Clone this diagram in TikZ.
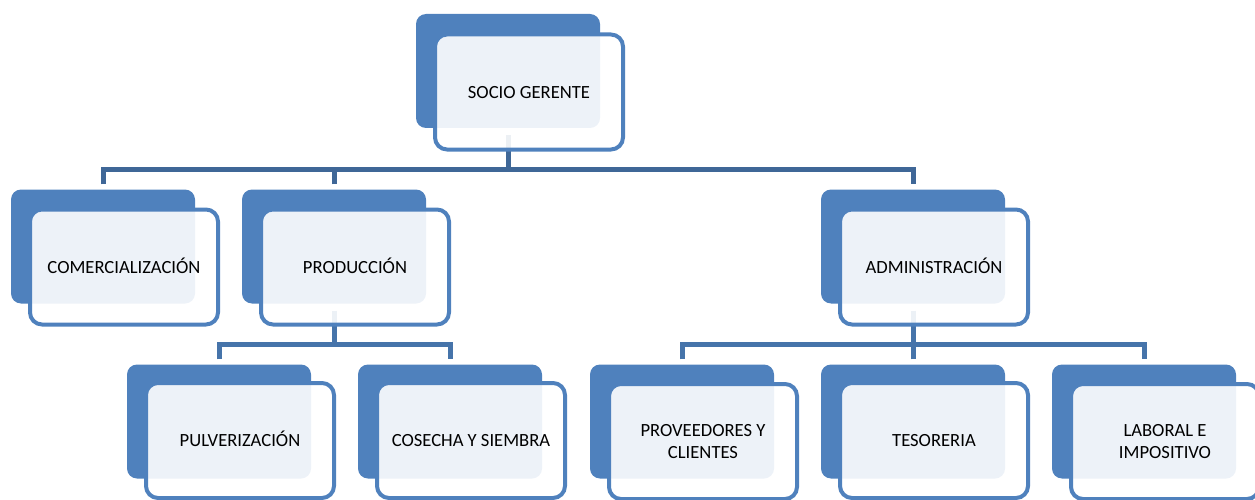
\documentclass[tikz,border=0pt]{standalone}
\usepackage{fontspec}
\setmainfont{Carlito}
\usetikzlibrary{backgrounds}
\definecolor{accent}{HTML}{4F81BD}
\definecolor{linktop}{HTML}{3F6797}
\definecolor{linklow}{HTML}{4674AA}
\begin{document}
\begin{tikzpicture}[x=1pt,y=-1pt,
  backbox/.style={rectangle, rounded corners=10pt, fill=accent, draw=none,
    minimum width=184pt, minimum height=114pt, inner sep=0pt},
  frontbox/.style={rectangle, rounded corners=12pt, fill=white, fill opacity=0.9,
    text opacity=1, draw=accent, line width=4pt, minimum width=188pt,
    minimum height=115pt, inner sep=0pt, align=center, text=black,
    font=\fontsize{18.6}{22}\selectfont},
  oneline/.style={text height=12.5pt, text depth=0pt},
  conn/.style={draw=linklow, line width=5pt},
  conntop/.style={draw=linktop, line width=5pt}]
\useasboundingbox (0,0) rectangle (1255,500);
\clip (0,0) rectangle (1255,500);

% top
\node[backbox] (b0) at (508,71) {};
\node[frontbox, oneline] (f0) at (529,92) {SOCIO GERENTE};
% second row
\node[backbox] (bcom) at (103,246.5) {};
\node[frontbox, oneline] (fcom) at (124,267) {COMERCIALIZACIÓN};
\node[backbox] (bprod) at (334,246.5) {};
\node[frontbox, oneline] (fprod) at (355,267) {PRODUCCIÓN};
\node[backbox] (badm) at (913,246.5) {};
\node[frontbox, oneline] (fadm) at (934,267) {ADMINISTRACIÓN};
% third row
\node[backbox] (bpul) at (219,421.5) {};
\node[frontbox, oneline] (fpul) at (240,440.5) {PULVERIZACIÓN};
\node[backbox] (bcos) at (450,421.5) {};
\node[frontbox, oneline] (fcos) at (471,440.5) {COSECHA Y SIEMBRA};
\node[backbox] (bpro) at (682,421.5) {};
\node[frontbox] (fpro) at (703,441.5) {PROVEEDORES Y\\CLIENTES};
\node[backbox] (btes) at (913,421.5) {};
\node[frontbox, oneline] (ftes) at (934,440.5) {TESORERIA};
\node[backbox] (blab) at (1144,421.5) {};
\node[frontbox] (flab) at (1165,441.5) {LABORAL E\\IMPOSITIVO};

% connectors, under the boxes
\coordinate (bus1) at (0,169);
\coordinate (bus2) at (0,344.5);
\begin{scope}[on background layer]
\draw[conntop] ([yshift=-7pt]b0.south) -- (b0.south |- bus1);
\draw[conntop] ([yshift=5pt]bcom.north) |- (badm.north |- bus1) -- ([yshift=5pt]badm.north);
\draw[conntop] ([yshift=5pt]bprod.north) -- (bprod.north |- bus1);
\draw[conn] ([yshift=-7pt]bprod.south) -- (bprod.south |- bus2);
\draw[conn] ([yshift=5pt]bpul.north) |- (bcos.north |- bus2) -- ([yshift=5pt]bcos.north);
\draw[conn] ([yshift=-7pt]badm.south) -- (badm.south |- bus2);
\draw[conn] ([yshift=5pt]bpro.north) |- (blab.north |- bus2) -- ([yshift=5pt]blab.north);
\draw[conn] ([yshift=5pt]btes.north) -- (btes.north |- bus2);
\end{scope}
\end{tikzpicture}
\end{document}
